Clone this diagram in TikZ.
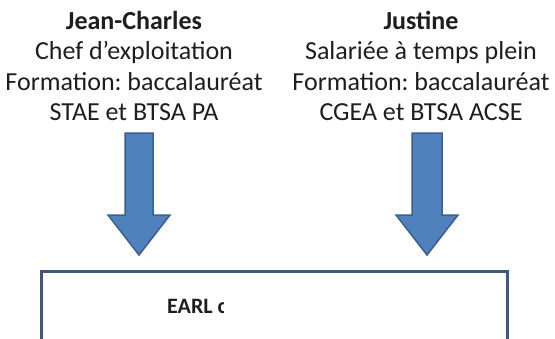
\documentclass[tikz,border=0pt]{standalone}
\usepackage{fontspec}
\setmainfont{Carlito}
\frenchspacing
\definecolor{arrowblue}{HTML}{4F81BD}
\definecolor{arrowedge}{HTML}{3A5F8C}
\definecolor{boxedge}{HTML}{40587C}
\definecolor{textgrey}{HTML}{1E1E1E}
\tikzset{
	every picture/.append style={x=1pt,y=-1pt},
	personnode/.style = {align=center, inner sep=0pt, text=textgrey, font=\fontsize{26}{30.5}\selectfont},
	blockarrow/.style = {fill=arrowblue, draw=arrowedge, line width=1.5pt, line join=miter},
	earlbox/.style = {draw=boxedge, line width=3pt}
}
\begin{document}
\begin{tikzpicture}
				\useasboundingbox (0,0) rectangle (555,338);
				\node[personnode] at (134,66) (jc) {\textbf{Jean-Charles}\\Chef d’exploitation\\Formation: baccalauréat\\STAE et BTSA PA};
				\node[personnode] at (421,66) (ju) {\textbf{Justine}\\Salariée à temps plein\\Formation: baccalauréat\\CGEA et BTSA ACSE};
				\coordinate (jcarrow) at (139,133);
				\coordinate (juarrow) at (427,133);
				\draw[blockarrow] (jcarrow) ++(-14,0) -- ++(28,0) -- ++(0,82) -- ++(17,0) -- ++(-31,40) -- ++(-31,-40) -- ++(17,0) -- cycle;
				\draw[blockarrow] (juarrow) ++(-15,0) -- ++(30,0) -- ++(0,82) -- ++(16,0) -- ++(-31,40) -- ++(-31,-40) -- ++(16,0) -- cycle;
				\draw[earlbox] (41,345) -- (41,271) -- (507,271) -- (507,345);
				\begin{scope}
					\clip (150,290) rectangle (223,325);
					\node[anchor=base west, inner sep=0pt, text=textgrey, font=\fontsize{22}{26}\selectfont\bfseries] at (167,313) (earl) {EARL c};
				\end{scope}
			\end{tikzpicture}
\end{document}
